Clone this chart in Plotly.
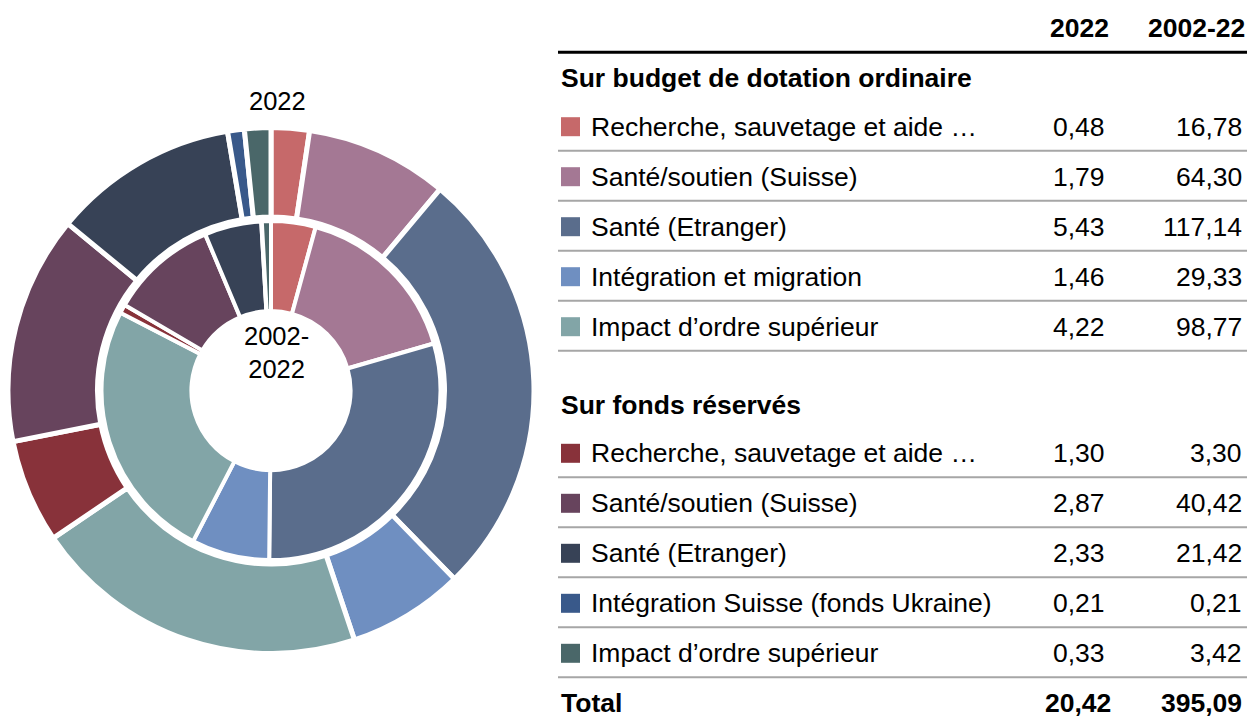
import plotly.graph_objects as go

# The page body keeps its default 8px margin, so the figure is drawn 8px in
# from the top-left corner; all pixel positions below are page pixels.
W, H = 1255, 720
OFF = 8
FW, FH = W - OFF, H - OFF

# ---------------- data ----------------
labels_budget = ["Recherche, sauvetage et aide …", "Santé/soutien (Suisse)",
                 "Santé (Etranger)", "Intégration et migration",
                 "Impact d’ordre supérieur"]
labels_reserved = ["Recherche, sauvetage et aide …", "Santé/soutien (Suisse)",
                   "Santé (Etranger)", "Intégration Suisse (fonds Ukraine)",
                   "Impact d’ordre supérieur"]
v2022_budget = [0.48, 1.79, 5.43, 1.46, 4.22]
v2022_reserved = [1.30, 2.87, 2.33, 0.21, 0.33]
vcum_budget = [16.78, 64.30, 117.14, 29.33, 98.77]
vcum_reserved = [3.30, 40.42, 21.42, 0.21, 3.42]
colors_budget = ["#C6696A", "#A47894", "#5A6D8C", "#6F8FC1", "#82A5A7"]
colors_reserved = ["#88323A", "#67445D", "#374256", "#39598A", "#4A6769"]
section_titles = ["Sur budget de dotation ordinaire", "Sur fonds réservés"]
col_headers = ["2022", "2002-22"]
ring_outer_label = "2022"
ring_inner_label = "2002-<br>2022"
total_label = "Total"

FONT = "Arial, 'Liberation Sans', sans-serif"
TSIZE = 26.5


def fmt(v):
    return f"{v:.2f}".replace(".", ",")


def px(x):
    return (x - OFF) / FW


def py(y):
    return 1 - (y - OFF) / FH


# ---------------- donut geometry (page pixels) ----------------
cx, cy = 271.0, 390.6
lw_out, lw_in = 5, 4
R_out = min(261.7 + lw_out / 2, cx - OFF)
r_out = 176.0 - lw_out / 2
R_in, r_in = 167.5 + lw_in / 2, 81.6 - lw_in / 2


def dom(R):
    return dict(x=[max(0.0, px(cx - R)), min(1.0, px(cx + R))],
                y=[max(0.0, py(cy + R)), min(1.0, py(cy - R))])


all_labels = [l + " (budget)" for l in labels_budget] + [l + " (réservé)" for l in labels_reserved]
all_colors = colors_budget + colors_reserved

fig = go.Figure()
fig.add_trace(go.Pie(
    labels=all_labels, values=v2022_budget + v2022_reserved,
    sort=False, direction="clockwise", rotation=0,
    hole=r_out / R_out, textinfo="none", showlegend=False,
    marker=dict(colors=all_colors, line=dict(color="white", width=lw_out)),
    domain=dom(R_out), name="2022",
))
fig.add_trace(go.Pie(
    labels=all_labels, values=vcum_budget + vcum_reserved,
    sort=False, direction="clockwise", rotation=0,
    hole=r_in / R_in, textinfo="none", showlegend=False,
    marker=dict(colors=all_colors, line=dict(color="white", width=lw_in)),
    domain=dom(R_in), name="2002-2022",
))

ann = []
shapes = []


def text(x, y, s, anchor="left", size=TSIZE, bold=False):
    ann.append(dict(
        x=px(x), y=py(y), xref="paper", yref="paper",
        text=f"<b>{s}</b>" if bold else s, showarrow=False,
        xanchor=anchor, yanchor="middle",
        font=dict(family=FONT, size=size, color="#000000"),
    ))


def hline(y, color, width):
    shapes.append(dict(type="line", xref="paper", yref="paper",
                       x0=px(558), x1=px(1255), y0=py(y), y1=py(y),
                       line=dict(color=color, width=width)))


# donut labels
text(277, 101, ring_outer_label, anchor="center", size=25.5)
text(276.5, 352, ring_inner_label, anchor="center", size=25.5)

# table header
X_LBL, X_C1, X_C2 = 589, 1107, 1244
text(1111, 28, col_headers[0], anchor="right", bold=True)
text(1247, 28, col_headers[1], anchor="right", bold=True)
hline(52.3, "#000000", 3)

sections = [
    (78.3, 126.7, labels_budget, v2022_budget, vcum_budget, colors_budget),
    (405.0, 453.3, labels_reserved, v2022_reserved, vcum_reserved, colors_reserved),
]
ROW = 50
for (hy, y0, labs, a, b, cols), title in zip(sections, section_titles):
    text(559, hy, title, bold=True)
    for i, (l, v1, v2, c) in enumerate(zip(labs, a, b, cols)):
        y = y0 + i * ROW
        shapes.append(dict(type="rect", xref="paper", yref="paper",
                           x0=px(561), x1=px(580), y0=py(y - 9.5), y1=py(y + 9.5),
                           fillcolor=c, line=dict(width=0)))
        text(X_LBL, y, l)
        text(X_C1, y, fmt(v1), anchor="right")
        text(X_C2, y, fmt(v2), anchor="right")
        hline(y + 24, "#A6A6A6", 2)

tot1 = sum(v2022_budget) + sum(v2022_reserved)
tot2 = sum(vcum_budget) + sum(vcum_reserved)
text(559, 703.3, total_label, bold=True)
text(1113, 703.3, fmt(tot1), anchor="right", bold=True)
text(1244, 703.3, fmt(tot2), anchor="right", bold=True)

fig.update_layout(
    width=FW, height=FH, margin=dict(l=0, r=0, t=0, b=0),
    paper_bgcolor="white", plot_bgcolor="white",
    annotations=ann, shapes=shapes, showlegend=False,
    font=dict(family=FONT),
)
fig.write_html("out.html")
